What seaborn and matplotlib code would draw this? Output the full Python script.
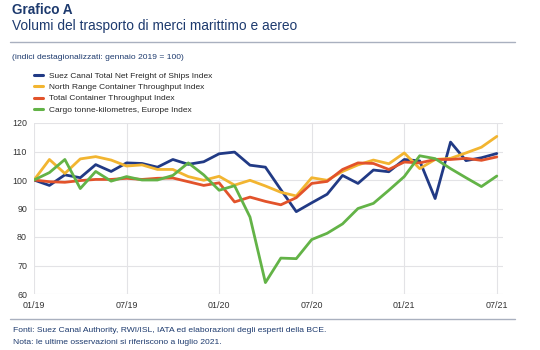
import numpy as np
import pandas as pd
import matplotlib
matplotlib.use("Agg")
import matplotlib.pyplot as plt
import seaborn as sns
from matplotlib.lines import Line2D

# ---- data ----
months = list(range(31))  # 01/2019 .. 07/2021
tick_labels = ["01/19", "07/19", "01/20", "07/20", "01/21", "07/21"]
series_names = [
    "Suez Canal Total Net Freight of Ships Index",
    "North Range Container Throughput Index",
    "Total Container Throughput Index",
    "Cargo tonne-kilometres, Europe Index",
]
suez = [100, 98.1, 101.8, 100.8, 105.4, 103, 106, 105.8, 104.5, 107.2, 105.5,
        106.4, 109.2, 109.8, 105.2, 104.5, 96.6, 88.9, 92, 95, 101.6, 98.8,
        103.5, 102.9, 107.2, 106.7, 93.5, 113.3, 106.8, 107.8, 109.3]
north = [100, 107.2, 102.3, 107.4, 108.2, 107, 104.9, 105.3, 103.7, 103.7, 101.2,
         99.9, 101.3, 98.2, 99.9, 97.9, 95.7, 94.4, 100.8, 99.9, 103, 105.3,
         107, 105.7, 109.5, 104, 107.2, 107.6, 109.5, 111.5, 115.3]
total = [100, 99.4, 99.2, 99.8, 100.2, 100.2, 100.6, 100.2, 100.6, 100.7, 99.4,
         98.1, 99, 92.3, 94, 92.5, 91.3, 93.8, 98.8, 99.5, 103.7, 106, 105.8,
         103.7, 106.3, 106, 107.2, 107.2, 107.6, 106.9, 108.1]
cargo = [100, 102.6, 107.2, 97, 103, 99.6, 101.2, 100, 100, 101.6, 106, 101.8,
         96.4, 98, 87, 64, 72.6, 72.4, 79.1, 81.3, 84.6, 90, 91.8, 96.4, 101.2,
         108.5, 107.5, 104, 100.8, 97.7, 101.4]

colors = ["#213a85", "#f2b531", "#e2532b", "#63b347"]

df = pd.concat([
    pd.DataFrame({"month": months, "value": vals, "series": name})
    for name, vals in zip(series_names, [suez, north, total, cargo])
])

# ---- figure ----
sns.set_theme(style="white")
plt.rcParams["font.family"] = ["Liberation Sans", "DejaVu Sans"]

W, H = 540, 350
fig = plt.figure(figsize=(5.4, 3.5), dpi=100)
fig.patch.set_facecolor("white")

# plot area in pixels
x0, x1, yt, yb = 34, 503, 123, 294
ax = fig.add_axes([x0 / W, 1 - yb / H, (x1 - x0) / W, (yb - yt) / H])

sns.lineplot(data=df, x="month", y="value", hue="series", palette=colors,
             hue_order=series_names, ax=ax, linewidth=2.0, legend=False)

ax.set_xlim(0, 30.4)
ax.set_ylim(60, 120)
ax.set_yticks(range(60, 121, 10))
ax.set_xticks(range(0, 31, 6))
ax.set_xticklabels(tick_labels)
ax.set_xlabel("")
ax.set_ylabel("")
ax.grid(True, color="#e3e3e6", linewidth=0.8)
for s in ax.spines.values():
    s.set_visible(False)
ax.tick_params(axis="both", length=0, labelsize=6.4, colors="#333333")
ax.tick_params(axis="y", pad=5)
ax.tick_params(axis="x", pad=5)

# legend
handles = [Line2D([0], [0], color=c, lw=2.2) for c in colors]
fig.legend(handles, series_names, loc="upper left",
           bbox_to_anchor=(34 / W, 1 - 72 / H), frameon=False,
           fontsize=6.0, handlelength=1.1, handletextpad=0.75,
           labelspacing=0.42, borderpad=0, borderaxespad=0)

# titles
navy = "#1d3a6e"
fig.text(12 / W, 1 - 3 / H, "Grafico A", fontsize=9.8, fontweight="bold",
         color=navy, va="top", ha="left")
fig.text(12 / W, 1 - 19 / H, "Volumi del trasporto di merci marittimo e aereo",
         fontsize=9.9, color=navy, va="top", ha="left")
fig.add_artist(Line2D([10 / W, 515 / W], [1 - 42 / H, 1 - 42 / H],
                      color="#a9b0bf", lw=1.0))
fig.text(12 / W, 1 - 54 / H, "(indici destagionalizzati: gennaio 2019 = 100)",
         fontsize=6.1, color=navy, va="top", ha="left")

# footer
fig.add_artist(Line2D([10 / W, 515 / W], [1 - 319 / H, 1 - 319 / H],
                      color="#a9b0bf", lw=1.0))
fig.text(13 / W, 1 - 330 / H,
         "Fonti: Suez Canal Authority, RWI/ISL, IATA ed elaborazioni degli esperti della BCE.",
         fontsize=6.1, color=navy, va="center", ha="left")
fig.text(13 / W, 1 - 343 / H,
         "Nota: le ultime osservazioni si riferiscono a luglio 2021.",
         fontsize=6.1, color=navy, va="center", ha="left")

fig.savefig("out.png", dpi=100, facecolor="white")
